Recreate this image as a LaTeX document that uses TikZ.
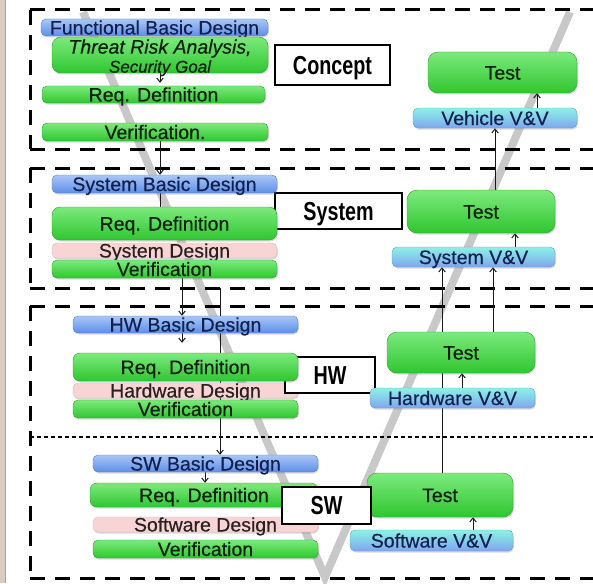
\documentclass[tikz,border=0pt]{standalone}
\usepackage{fontspec}
\setmainfont{Liberation Sans}
\newfontfamily\boxfont[FakeBold=0.45]{Liberation Sans}
\newfontfamily\tagfont[FakeStretch=0.76]{Liberation Sans}
\usetikzlibrary{arrows.meta,shadows}

\definecolor{vgray}{HTML}{C8C8C8}
\definecolor{edgetan}{HTML}{DACDBF}
\definecolor{gtop}{HTML}{7CEA7C}
\definecolor{gbot}{HTML}{30C630}
\definecolor{gedge}{HTML}{2AA02A}
\definecolor{gtext}{HTML}{0C1E0C}
\definecolor{btop}{HTML}{A9C7F7}
\definecolor{bbot}{HTML}{5E8EE8}
\definecolor{bedge}{HTML}{4F7FD2}
\definecolor{btext}{HTML}{12204F}
\definecolor{vtop}{HTML}{8CF2E4}
\definecolor{vbot}{HTML}{7EA6F0}
\definecolor{vedge}{HTML}{6A98D6}
\definecolor{pfill}{HTML}{F8D4D4}
\definecolor{pedge}{HTML}{E6BABA}
\definecolor{ptext}{HTML}{2A2020}

\pgfdeclarelayer{bg}
\pgfdeclarelayer{back}
\pgfsetlayers{bg,back,main}

\begin{document}
\begin{tikzpicture}[x=1pt,y=-1pt,
  box/.style={rounded corners=5pt, inner sep=0pt, text height=14pt, text depth=0pt,
    font=\boxfont\fontsize{19.5}{20}\selectfont,
    drop shadow={shadow xshift=0.8pt, shadow yshift=-1.5pt, opacity=0.3}},
  greenbox/.style={box, top color=gtop, bottom color=gbot, draw=gedge, text=gtext},
  testbox/.style={greenbox, rounded corners=10pt},
  bluebar/.style={box, top color=btop, bottom color=bbot, draw=bedge, text=btext},
  vvbar/.style={box, top color=vtop, bottom color=vbot, draw=vedge, text=btext},
  pinkbar/.style={box, fill=pfill, draw=pedge, text=ptext},
  tag/.style={draw=black, line width=1.2pt, fill=white, inner sep=0pt,
    text height=18.6pt, text depth=0pt,
    font=\tagfont\bfseries\fontsize{26}{28}\selectfont},
  frame/.style={line width=3pt, dash pattern=on 15pt off 10pt},
  thinframe/.style={line width=1.3pt, dash pattern=on 4pt off 3pt},
  link/.style={line width=1pt, draw=black!90},
  arr/.style={link, -{Straight Barb[length=4pt,width=6.5pt]}}
]
\useasboundingbox (0,0) rectangle (593,583);

% page and left margin strip
\begin{pgfonlayer}{bg}
  \fill[white] (0,0) rectangle (593,583);
  \fill[edgetan] (0,0) rectangle (5,583);
  \draw[black!35, line width=0.6pt] (5.3,0) -- (5.3,583);
  % the V of the process
  \draw[vgray, line width=8pt] (83,12) -- (325,577) -- (570,12);
  % phase frames
  \draw[frame] (30,10) -- (30,149);
  \draw[frame] (30,10) -- (593,10);
  \draw[frame] (30,149) -- (593,149);
  \draw[frame] (30,168) -- (30,288);
  \draw[frame] (30,168) -- (593,168);
  \draw[frame] (30,288) -- (593,288);
  \draw[frame] (30,306) -- (30,578);
  \draw[frame] (30,306) -- (593,306);
  \draw[frame] (30,578) -- (593,578);
  \draw[thinframe] (30,437) -- (593,437);
\end{pgfonlayer}

% ---------------- Concept ----------------
\node[bluebar, minimum width=227pt, minimum height=17pt] (fbd) at (154.5,27.5) {Functional Basic Design};
\node[greenbox, rounded corners=9pt, minimum width=216pt, minimum height=36pt,
  label={[inner sep=0pt, yshift=-2.8pt, align=center, text=gtext, font=\boxfont\fontsize{19.5}{19}\selectfont\itshape]center:{Threat Risk Analysis,\\\fontsize{17}{19}\selectfont Security Goal}}] (tra) at (160,55) {};
\node[greenbox, minimum width=223pt, minimum height=17pt] (crd) at (153.5,94.5) {Req. Definition};
\node[greenbox, minimum width=226pt, minimum height=18pt] (cver) at (155,132) {Verification.};
\node[tag, minimum width=115pt, minimum height=40pt] (concept) at (332.5,65) {Concept};
\node[testbox, minimum width=149pt, minimum height=41pt] (ctest) at (502.5,72.5) {Test};
\node[vvbar, minimum width=164pt, minimum height=20pt] (vvv) at (495,118) {Vehicle V\&V};

% ---------------- System ----------------
\node[tag, minimum width=127pt, minimum height=36pt] (system) at (338.5,211) {System};
\node[bluebar, minimum width=225pt, minimum height=18pt] (sbd) at (164.5,184) {System Basic Design};
\node[greenbox, rounded corners=8pt, minimum width=225pt, minimum height=33pt] (srd) at (164.5,223.5) {Req. Definition};
\node[pinkbar, minimum width=225pt, minimum height=15pt] (sdes) at (164.5,250.5) {System Design};
\node[greenbox, minimum width=225pt, minimum height=18pt] (sver) at (164.5,269) {Verification};
\node[testbox, minimum width=148pt, minimum height=43pt] (stest) at (481,211.5) {Test};
\node[vvbar, minimum width=163pt, minimum height=20pt] (svv) at (473.5,257) {System V\&V};

% ---------------- Hardware ----------------
\node[bluebar, minimum width=225pt, minimum height=17pt] (hbd) at (185.5,324.5) {HW Basic Design};
\node[pinkbar, minimum width=225pt, minimum height=15pt] (hdes) at (185.5,390.5) {Hardware Design};
\node[tag, minimum width=90pt, minimum height=36pt] (hw) at (330,375) {HW};
\node[greenbox, rounded corners=7pt, minimum width=225pt, minimum height=28pt] (hrd) at (185.5,367) {Req. Definition};
\node[greenbox, minimum width=225pt, minimum height=18pt] (hver) at (185.5,409) {Verification};
\node[testbox, minimum width=148pt, minimum height=41pt] (htest) at (461,352.5) {Test};
\node[vvbar, minimum width=165pt, minimum height=20pt] (hvv) at (452.5,398) {Hardware V\&V};

% ---------------- Software ----------------
\node[bluebar, minimum width=225pt, minimum height=17pt] (swbd) at (205.5,463.5) {SW Basic Design};
\node[greenbox, rounded corners=7pt, minimum width=228pt, minimum height=24pt] (swrd) at (204,495) {Req. Definition};
\node[pinkbar, minimum width=225pt, minimum height=15pt] (swdes) at (205.5,524.5) {Software Design};
\node[greenbox, minimum width=225pt, minimum height=18pt] (swver) at (205.5,549) {Verification};
\node[testbox, minimum width=146pt, minimum height=44pt] (swtest) at (440,495) {Test};
\node[tag, minimum width=89pt, minimum height=37pt] (sw) at (326.5,505.5) {SW};
\node[vvbar, minimum width=163pt, minimum height=21pt] (swvv) at (431.5,540.5) {Software V\&V};

% ---------------- connectors ----------------
\coordinate (xa) at (160,0);
\coordinate (xb) at (182,0);
\coordinate (xd) at (205,0);
\coordinate (xe) at (537,0);
\coordinate (xf) at (495,0);
\coordinate (xg) at (515,0);
\coordinate (xh) at (493,0);
\coordinate (xi) at (442,0);
\coordinate (xj) at (462,0);
\coordinate (xk) at (473,0);
\coordinate (sysfoot) at (220,288);

\begin{pgfonlayer}{back}
  % design side, going down
  \draw[arr, shorten >=3pt] (xa |- tra.south) -- (xa |- crd.north);
  \draw[arr] (xa |- cver.south) -- (xa |- sbd.north);
  \draw[link] (xa |- sbd.south) -- (xa |- srd.north);
  \draw[arr] (xb |- sver.south) -- (xb |- hbd.north);
  \draw[arr, shorten >=10pt] (xb |- hbd.south) -- (xb |- hrd.north);
  \draw[arr] (sysfoot) -- (sysfoot |- swbd.north);
  \draw[arr] (xd |- swbd.south) -- (xd |- swrd.north);
  % test side, going up
  \draw[arr] (xe |- vvv.north) -- (xe |- ctest.south);
  \draw[arr] (xf |- stest.north) -- (xf |- vvv.south);
  \draw[arr] (xg |- svv.north) -- (xg |- stest.south);
  \draw[arr] (xh |- htest.north) -- (xh |- svv.south);
  \draw[arr] (xi |- swtest.north) -- (xi |- svv.south);
  \draw[arr] (xj |- hvv.north) -- (xj |- htest.south);
  \draw[arr] (xk |- swvv.north) -- (xk |- swtest.south);
\end{pgfonlayer}
\end{tikzpicture}
\end{document}
